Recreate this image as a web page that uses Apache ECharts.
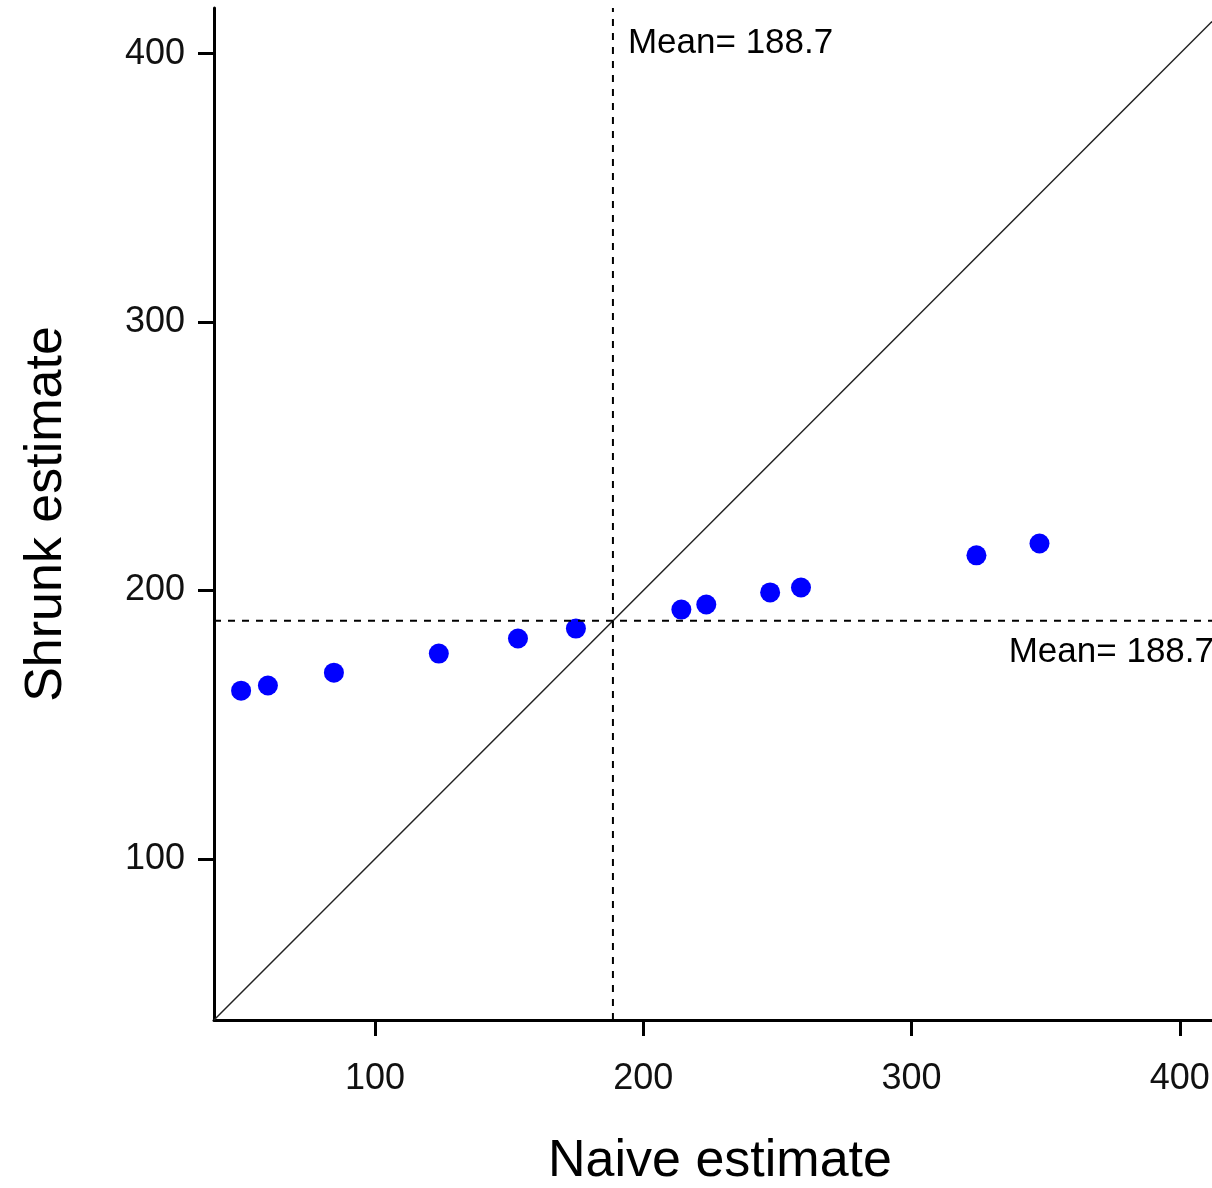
<!DOCTYPE html>
<html><head><meta charset="utf-8">
<script src="https://cdn.jsdelivr.net/npm/echarts@6/dist/echarts.min.js"></script>
<style>html,body{margin:0;padding:0;background:#fff}#c{width:1212px;height:1188px}</style>
</head><body><div id="c"></div>
<script>
const naive = [50.1, 60.1, 84.7, 123.8, 153.3, 174.9, 214.2, 223.5, 247.3, 258.8, 324.2, 347.7];
const shrunk = [162.7, 164.6, 169.4, 176.5, 182.1, 185.8, 192.9, 194.8, 199.3, 201.1, 213.1, 217.5];
const meanValue = 188.7;
const tickValues = [100, 200, 300, 400];
const xRange = [40, 412];
const yRange = [40, 417];
const meanText = 'Mean= 188.7';

const font = 'Liberation Sans, Arial, Helvetica, sans-serif';
const chart = echarts.init(document.getElementById('c'));
const axisCommon = {
  axisLine: {show: true, onZero: false, lineStyle: {color: '#000', width: 3}},
  axisTick: {show: true, inside: false, length: 16, lineStyle: {color: '#000', width: 3}, customValues: tickValues},
  axisLabel: {color: '#111', fontSize: 36, fontFamily: font, customValues: tickValues, showMinLabel: true, showMaxLabel: true},
  splitLine: {show: false},
  nameLocation: 'middle',
  nameTextStyle: {color: '#000', fontSize: 52, fontFamily: font}
};
chart.setOption({
  animation: false,
  backgroundColor: '#fff',
  grid: {left: 214, right: 0, top: 8, bottom: 168, containLabel: false, outerBoundsMode: 'none'},
  xAxis: Object.assign({}, axisCommon, {
    type: 'value', min: xRange[0], max: xRange[1], name: 'Naive estimate', nameGap: 116,
    nameTextStyle: Object.assign({}, axisCommon.nameTextStyle, {padding: [0, 0, 0, 14]}),
    axisLabel: Object.assign({}, axisCommon.axisLabel, {margin: 41})
  }),
  yAxis: Object.assign({}, axisCommon, {
    type: 'value', min: yRange[0], max: yRange[1], name: 'Shrunk estimate', nameGap: 141,
    axisLabel: Object.assign({}, axisCommon.axisLabel, {margin: 29})
  }),
  series: [
    {type: 'line', data: [[xRange[0], yRange[0]], [xRange[1], xRange[1]]], symbol: 'none',
     lineStyle: {color: '#222', width: 1.5}, silent: true},
    {type: 'line', data: [[meanValue, yRange[0]], [meanValue, yRange[1]]], symbol: 'none',
     lineStyle: {color: '#000', width: 2, type: [7, 7]}, silent: true},
    {type: 'line', data: [[xRange[0], meanValue], [xRange[1], meanValue]], symbol: 'none',
     lineStyle: {color: '#000', width: 2, type: [7, 7]}, silent: true},
    {type: 'scatter', data: naive.map((v, i) => [v, shrunk[i]]), symbol: 'circle', symbolSize: 20,
     itemStyle: {color: '#0000ff', opacity: 1}},
    {type: 'scatter', symbolSize: 0, data: [[meanValue, 404]], itemStyle: {opacity: 1},
     label: {show: true, position: 'right', distance: 15, formatter: meanText, color: '#000', fontSize: 35, fontFamily: font}},
    {type: 'scatter', symbolSize: 0, data: [[xRange[1], 177]], itemStyle: {opacity: 1},
     label: {show: true, position: 'left', distance: -2, formatter: meanText, color: '#000', fontSize: 35, fontFamily: font}}
  ]
});
</script></body></html>
